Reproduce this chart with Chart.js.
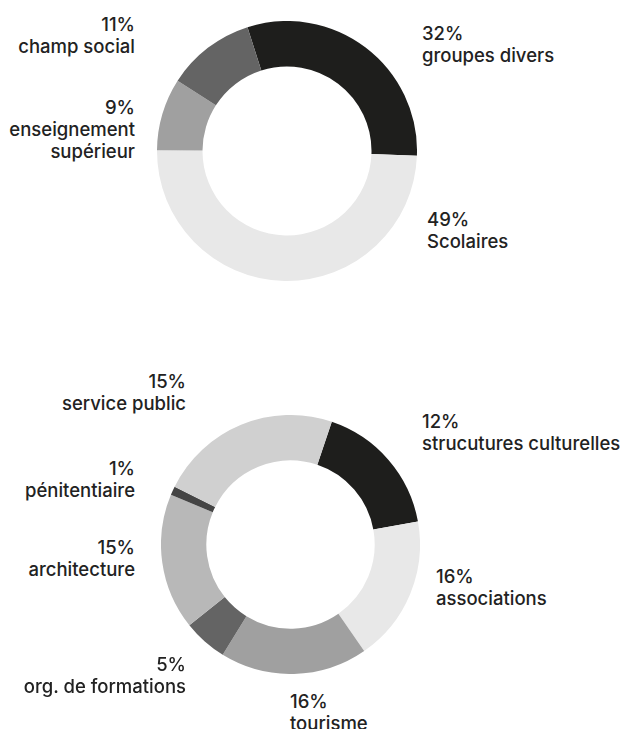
<!DOCTYPE html>
<html>
<head>
<meta charset="utf-8">
<script src="https://cdn.jsdelivr.net/npm/chart.js@4"></script>
<style>
  html { overflow: hidden; }
  body { margin: 0; background: #fff; width: 622px; height: 729px; position: relative; }
  .wrap { position: absolute; }
  .lbl { position: absolute; font-family: Inter, "Noto Sans", sans-serif; font-weight: 500; font-size: 18.5px; line-height: 22px; color: #222; white-space: nowrap; }
  .r { text-align: right; }
</style>
</head>
<body>
<div class="wrap" id="w1" style="left:157px;top:21px;width:260px;height:260px"><canvas id="c1"></canvas></div>
<div class="wrap" id="w2" style="left:161px;top:415px;width:259px;height:259px"><canvas id="c2"></canvas></div>
<div id="labels"></div>
<script>
// top chart: publics
const topCats = ['groupes divers', 'Scolaires', 'enseignement\nsupérieur', 'champ social']
const topVals = [30.5, 49.5, 9, 11]           // arc sizes as drawn
const topPct = ['32%', '49%', '9%', '11%']    // printed percentages
const topColors = ['#1e1e1c', '#e8e8e8', '#a0a0a0', '#646464']

// bottom chart: structures
const botCats = ['strucutures culturelles', 'associations', 'tourisme', 'org. de formations', 'architecture', 'pénitentiaire', 'service public']
const botVals = [17, 18.2, 18.4, 5.5, 17, 1.1, 22.8]
const botPct = ['12%', '16%', '16%', '5%', '15%', '1%', '15%']
const botColors = ['#1e1e1c', '#e8e8e8', '#a0a0a0', '#646464', '#b8b8b8', '#444444', '#d0d0d0']

// where each label block sits (x, y of top line, align)
const topLabelPos = [[422, 22, 'l'], [427, 208, 'l'], [135, 96, 'r'], [135, 13, 'r']]
const botLabelPos = [[422, 410, 'l'], [436, 565, 'l'], [290, 690, 'l'], [186, 653, 'r'], [135, 536, 'r'], [135, 457, 'r'], [186, 370, 'r']]

function makeDonut(id, vals, colors, rotation) {
    return new Chart(document.getElementById(id), {
        type: 'doughnut',
        data: {
            labels: vals.map((v, i) => i),
            datasets: [{
                data: vals,
                backgroundColor: colors,
                borderWidth: 0,
                hoverOffset: 0
            }]
        },
        options: {
            responsive: true,
            maintainAspectRatio: false,
            animation: false,
            cutout: '65%',
            rotation: rotation,
            events: [],
            plugins: { legend: { display: false }, tooltip: { enabled: false } }
        }
    })
}

makeDonut('c1', topVals, topColors, -17.7)
makeDonut('c2', botVals, botColors, 18.6)

//labels as plain text
function addLabels(cats, pct, pos) {
    const box = document.getElementById('labels')
    cats.forEach((c, i) => {
        const [x, y, a] = pos[i]
        const d = document.createElement('div')
        d.className = 'lbl' + (a == 'r' ? ' r' : '')
        d.style.top = y + 'px'
        if (a == 'r') d.style.right = (622 - x) + 'px'
        else d.style.left = x + 'px'
        d.innerHTML = pct[i] + '<br>' + c.replace('\n', '<br>')
        box.appendChild(d)
    })
}
addLabels(topCats, topPct, topLabelPos)
addLabels(botCats, botPct, botLabelPos)
</script>
</body>
</html>
